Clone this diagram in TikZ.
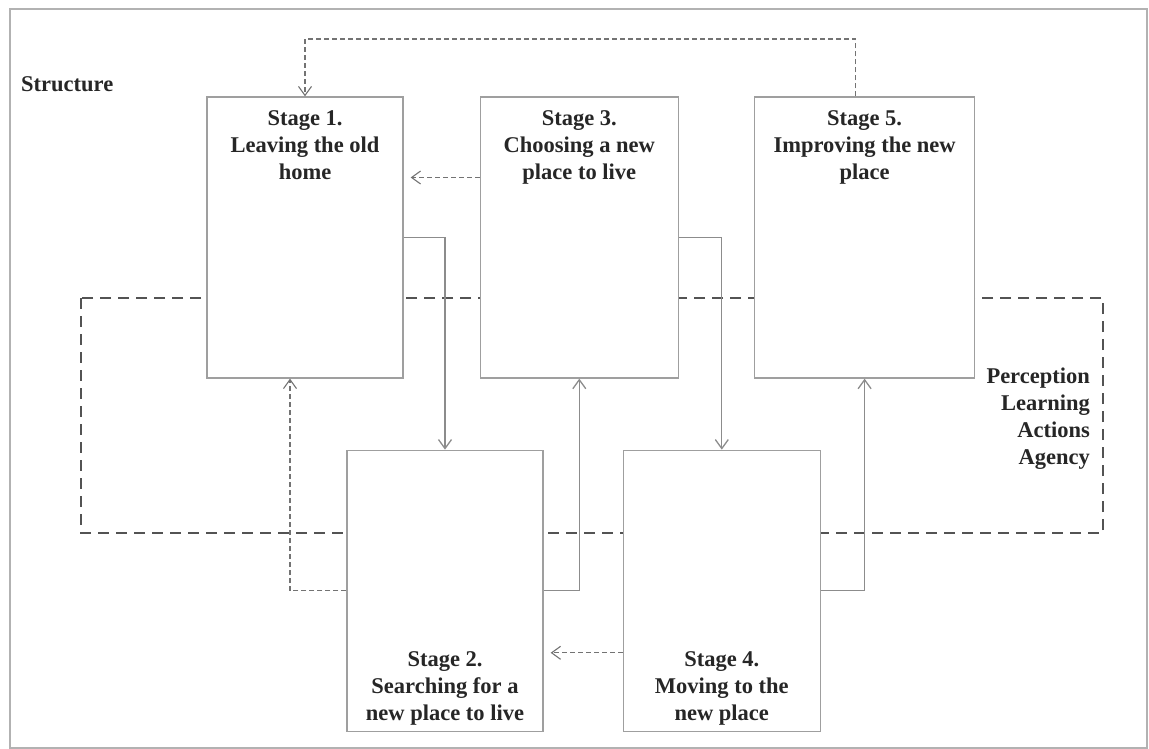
\documentclass[tikz,border=0pt]{standalone}
\usepackage{fontspec}
\setmainfont{Liberation Serif}
\usetikzlibrary{arrows.meta, positioning}

\begin{document}
\begin{tikzpicture}[x=1pt, y=-1pt, node distance=72pt,
    >={Straight Barb[length=9pt, width=13pt]},
    stagebox/.style={draw=gray!75, line width=1.3pt, fill=white, minimum width=197pt, minimum height=281pt, inner sep=0pt},
    stagetext/.style={inner sep=0pt, align=center, text=black!85, font=\fontsize{22.5}{27}\selectfont\bfseries},
    flow/.style={->, draw=gray!90, line width=1.3pt},
    back/.style={->, draw=gray!90!black, line width=1.1pt, dash pattern=on 5pt off 3pt}]
    % frame and the dashed region
    \useasboundingbox (0,0) rectangle (1149,749);
    \draw[gray!60, line width=2pt] (10,9) rectangle (1147,748);
    \draw[gray!65!black, line width=2.5pt, dash pattern=on 11pt off 7pt] (81,298) rectangle (1103,533);

    % stages
    \node[stagebox, minimum width=196pt] (s1) at (305,237.5) {};
    \node[stagebox, right=76pt of s1, minimum width=198pt] (s3) {};
    \node[stagebox, right=75pt of s3, minimum width=220pt] (s5) {};
    \node[stagebox, below=71pt of s1, xshift=140pt, minimum width=196pt] (s2) {};
    \node[stagebox, right=79pt of s2] (s4) {};

    \node[stagetext, below=14pt of s1.north] (t1) {Stage 1.\\Leaving the old\\home};
    \node[stagetext, below=14pt of s3.north] (t3) {Stage 3.\\Choosing a new\\place to live};
    \node[stagetext, below=14pt of s5.north] (t5) {Stage 5.\\Improving the new\\place};
    \node[stagetext, above=6pt of s2.south] (t2) {Stage 2.\\Searching for a\\new place to live};
    \node[stagetext, above=6pt of s4.south] (t4) {Stage 4.\\Moving to the\\new place};

    \node[stagetext, anchor=west] (structure) at (21,84) {Structure};
    \node[stagetext, align=right, anchor=east] (agency) at (1090,419) {Perception\\Learning\\Actions\\Agency};

    % forward steps
    \draw[flow] (s1.east) -| (s2.north);
    \draw[flow] (s2.east) -| (s3.south);
    \draw[flow] (s3.east) -| (s4.north);
    \draw[flow] (s4.east) -| (s5.south);

    % going back
    \draw[back] (s2.west) -| ([xshift=-15pt]s1.south);
    \draw[back] ([yshift=60pt]s3.west) -- ([xshift=7pt,yshift=60pt]s1.east);
    \draw[back] ([yshift=-62pt]s4.west) -- ([xshift=7pt,yshift=-62pt]s2.east);
    \coordinate (loop) at (305,39);
    \draw[back] ([xshift=-9pt]s5.north) |- (loop) -- (s1.north);
\end{tikzpicture}
\end{document}
